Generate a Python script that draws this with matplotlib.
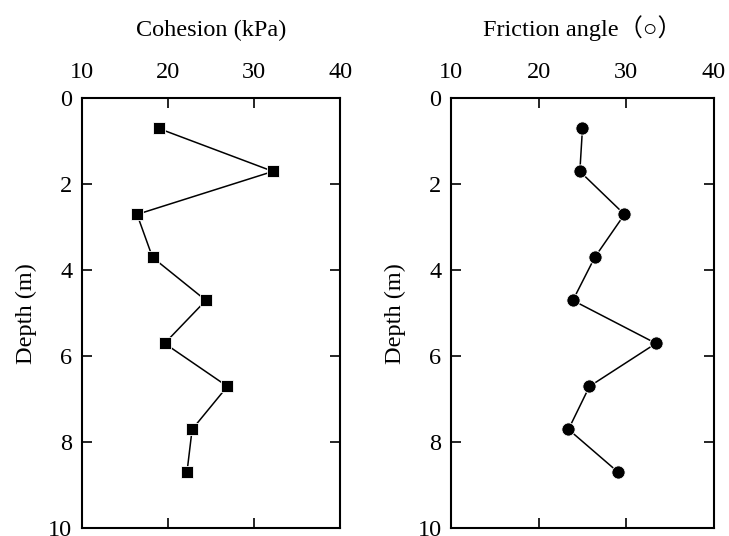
import numpy as np
import matplotlib.pyplot as plt

plt.rcParams['font.family'] = ['Liberation Serif', 'Noto Sans CJK SC', 'DejaVu Sans']
plt.rcParams['font.size'] = 17.5

# depth of each sample (m)
depth = [0.7, 1.7, 2.7, 3.7, 4.7, 5.7, 6.7, 7.7, 8.7]
cohesion = [18.9, 32.2, 16.4, 18.2, 24.4, 19.6, 26.9, 22.8, 22.2]
friction = [25.0, 24.7, 29.8, 26.4, 23.9, 33.4, 25.8, 23.4, 29.1]

xticks = [10, 20, 30, 40]
yticks = [0, 2, 4, 6, 8, 10]

fig = plt.figure(figsize=(7.29, 5.36), dpi=100)
ax1 = fig.add_axes([0.1125, 0.0144, 0.354, 0.8022])
ax2 = fig.add_axes([0.619, 0.0144, 0.360, 0.8022])

ax1.plot(cohesion, depth, color='black', lw=1.1, marker='s', ms=8.5,
         mfc='black', mec='white', mew=0.6)
ax2.plot(friction, depth, color='black', lw=1.1, marker='o', ms=9.5,
         mfc='black', mec='white', mew=0.6)

for ax, lab in [(ax1, 'Cohesion (kPa)'), (ax2, 'Friction angle（○）')]:
    ax.set_xlim(10, 40)
    ax.set_ylim(10, 0)
    ax.set_xticks(xticks)
    ax.set_yticks(yticks)
    ax.xaxis.tick_top()
    ax.xaxis.set_label_position('top')
    ax.tick_params(direction='in', length=7, width=1.2,
                   top=True, bottom=True, left=True, right=True,
                   labelbottom=False, labeltop=True)
    ax.tick_params(axis='x', pad=11)
    ax.tick_params(axis='y', pad=7)
    ax.set_xlabel(lab, labelpad=19)
    ax.set_ylabel('Depth (m)', labelpad=8)
    for s in ax.spines.values():
        s.set_linewidth(1.5)

plt.savefig('out.png', dpi=100)
